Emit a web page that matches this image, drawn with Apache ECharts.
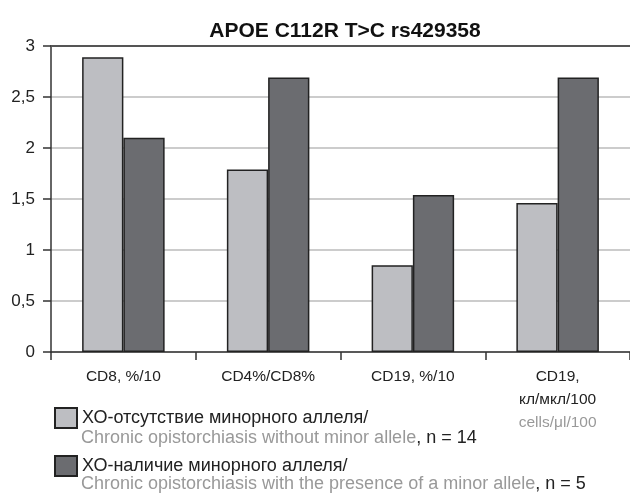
<!DOCTYPE html>
<html>
<head>
<meta charset="utf-8">
<script src="https://cdn.jsdelivr.net/npm/echarts@6/dist/echarts.min.js"></script>
<style>
html,body{margin:0;padding:0;background:#fff;}
#chart{width:630px;height:497px;}
</style>
</head>
<body>
<div id="chart"></div>
<script>
var titleText = 'APOE C112R T>C rs429358';
var categories = ['CD8, %/10', 'CD4%/CD8%', 'CD19, %/10', 'CD19,\nкл/мкл/100\ncells/μl/100'];
var seriesNames = ['ХО-отсутствие минорного аллеля/', 'ХО-наличие минорного аллеля/'];
var seriesSub = ['Chronic opistorchiasis without minor allele', 'Chronic opistorchiasis with the presence of a minor allele'];
var seriesN = [', n = 14', ', n = 5'];
var valuesWithout = [2.89, 1.79, 0.85, 1.46];
var valuesWith = [2.10, 2.69, 1.54, 2.69];
var yTicks = [0, 0.5, 1, 1.5, 2, 2.5, 3];

var FONT = 'Liberation Sans, Arial, sans-serif';
var chart = echarts.init(document.getElementById('chart'), null, {renderer: 'canvas'});

var option = {
  backgroundColor: '#fff',
  animation: false,
  textStyle: {fontFamily: FONT},
  title: {
    text: titleText,
    left: 340, textAlign: 'center', top: 16,
    textStyle: {fontSize: 21, fontWeight: 'bold', color: '#111', fontFamily: FONT}
  },
  grid: {left: 51, right: -2, top: 46, bottom: 145},
  legend: {
    orient: 'vertical', left: 54, top: 407, padding: 0,
    itemWidth: 22, itemHeight: 20, itemGap: 26,
    icon: 'rect',
    textStyle: {fontSize: 18, lineHeight: 20, color: '#222', fontFamily: FONT},
    data: seriesNames
  },
  xAxis: [{
    type: 'category',
    data: categories,
    axisLine: {lineStyle: {color: '#333', width: 1.5}},
    axisTick: {show: true, interval: 0, length: 8, lineStyle: {color: '#333', width: 1.5}},
    axisLabel: {
      interval: 0,
      margin: 13, fontSize: 15.5, color: '#222', lineHeight: 23, fontFamily: FONT,
      formatter: function (v) {
        var parts = v.split('\n');
        return parts.map(function (p, i) {
          return (parts.length === 3 && i === 2) ? '{g|' + p + '}' : '{a|' + p + '}';
        }).join('\n');
      },
      rich: {
        a: {fontSize: 15.5, color: '#222', lineHeight: 23, fontFamily: FONT},
        g: {fontSize: 15.5, color: '#999', lineHeight: 23, fontFamily: FONT}
      }
    }
  }, {
    type: 'category',
    data: categories,
    position: 'top',
    axisLine: {lineStyle: {color: '#555', width: 2}},
    axisTick: {show: false},
    axisLabel: {show: false}
  }],
  yAxis: {
    type: 'value', min: 0, max: 3, interval: 0.5,
    axisLine: {show: true, lineStyle: {color: '#333', width: 1.5}},
    axisTick: {show: true, length: 8, lineStyle: {color: '#333', width: 1.5}},
    axisLabel: {
      margin: 16, fontSize: 17, color: '#222', fontFamily: FONT,
      formatter: function (v) { return String(v).replace('.', ','); }
    },
    splitLine: {show: true, lineStyle: {color: '#bbb', width: 1.5}}
  },
  series: [{
    name: seriesNames[0], type: 'bar', data: valuesWithout,
    barGap: '0%', barCategoryGap: '43%',
    itemStyle: {color: '#bdbec2', borderColor: '#222', borderWidth: 1.5}
  }, {
    name: seriesNames[1], type: 'bar', data: valuesWith,
    barGap: '0%', barCategoryGap: '43%',
    itemStyle: {color: '#6b6c70', borderColor: '#222', borderWidth: 1.5}
  }],
  graphic: [0, 1].map(function (i) {
    return {
      type: 'text', left: 81, top: 429 + i * 46,
      style: {
        text: '{g|' + seriesSub[i] + '}{b|' + seriesN[i] + '}',
        rich: {
          g: {fontSize: 18, lineHeight: 20, fill: '#999', fontFamily: FONT},
          b: {fontSize: 18, lineHeight: 20, fill: '#222', fontFamily: FONT}
        }
      }
    };
  })
};
chart.setOption(option);
</script>
</body>
</html>
